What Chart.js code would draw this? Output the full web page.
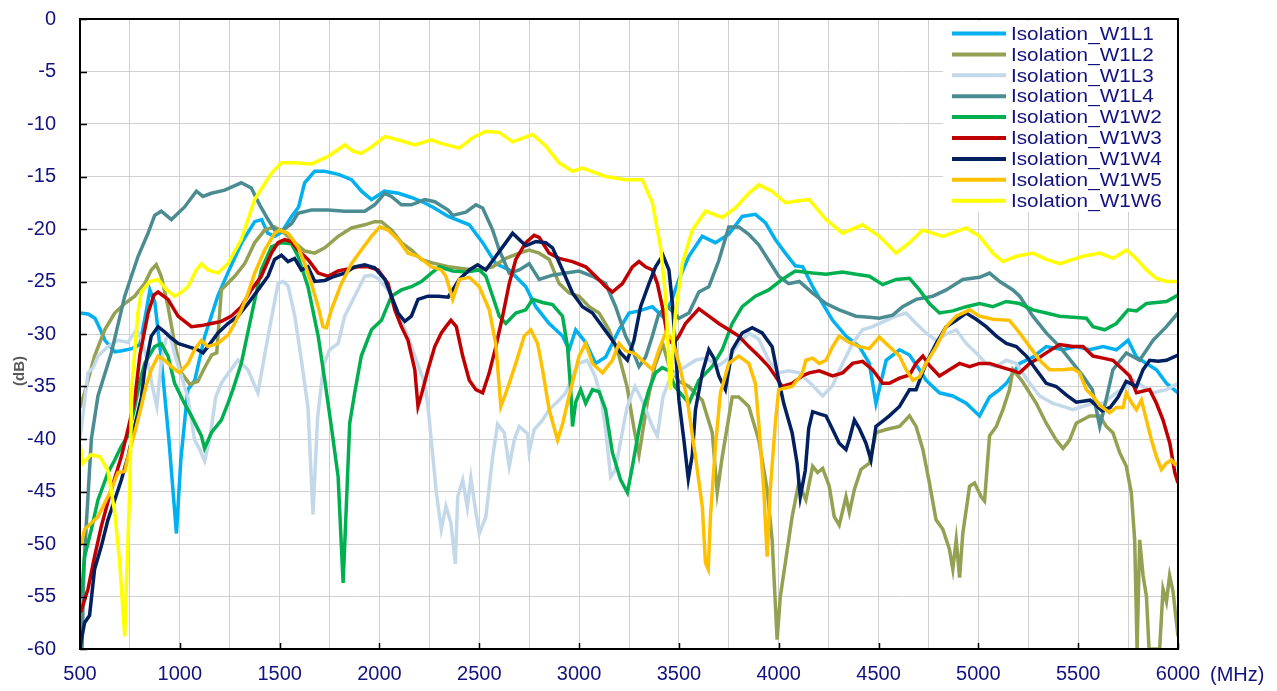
<!DOCTYPE html>
<html>
<head>
<meta charset="utf-8">
<script src="https://cdn.jsdelivr.net/npm/chart.js@4.4.1/dist/chart.umd.min.js"></script>
<style>
  html, body { margin: 0; padding: 0; background: #fff; }
  canvas { display: block; }
</style>
</head>
<body>
<canvas id="isoChart" width="1277" height="691"></canvas>
<script>
/* ========================================
   DATA  (frequency MHz, isolation dB)
======================================== */

const seriesNames = [
  "Isolation_W1L1", "Isolation_W1L2", "Isolation_W1L3", "Isolation_W1L4",
  "Isolation_W1W2", "Isolation_W1W3", "Isolation_W1W4", "Isolation_W1W5", "Isolation_W1W6"
];

const seriesColors = [
  "#00B0F0", "#94A052", "#C3D9EA", "#4A8C92",
  "#00B050", "#C00000", "#002060", "#FFC000", "#FFFF00"
];

const xTicks = [500, 1000, 1500, 2000, 2500, 3000, 3500, 4000, 4500, 5000, 5500, 6000];
const yTicks = [0, -5, -10, -15, -20, -25, -30, -35, -40, -45, -50, -55, -60];

const isoW1L1 = [[500,-28],[540,-28.1],[575,-28.5],[600,-29.5],[625,-30.6],[675,-31.7],[710,-31.6],[760,-31.4],[800,-31],[830,-28],[850,-25.8],[875,-27],[905,-32],[945,-40],[983,-49],[1005,-42],[1040,-35.3],[1075,-34.4],[1125,-30.2],[1190,-26.4],[1240,-24.2],[1310,-21.3],[1375,-19.3],[1410,-19.1],[1440,-20.4],[1475,-20.7],[1510,-20.3],[1560,-18.8],[1595,-17.9],[1625,-15.6],[1675,-14.5],[1725,-14.5],[1795,-14.8],[1860,-15.3],[1910,-16.4],[1960,-17.2],[2025,-16.4],[2095,-16.6],[2160,-17],[2225,-17.5],[2275,-18],[2345,-18.8],[2450,-19.6],[2517,-21.3],[2583,-23.3],[2650,-23.9],[2733,-25.5],[2783,-27.4],[2850,-29],[2917,-30.2],[2950,-31.5],[2983,-29.6],[3033,-30.8],[3083,-32.8],[3133,-32.2],[3200,-29.6],[3250,-28],[3300,-27.8],[3367,-27.4],[3417,-28.3],[3460,-27],[3500,-24.8],[3550,-22.6],[3617,-20.7],[3683,-21.3],[3750,-20.5],[3817,-18.8],[3883,-18.6],[3933,-19.4],[3983,-21],[4033,-22.3],[4083,-23.5],[4120,-23.6],[4170,-25.5],[4220,-27.1],[4270,-28.7],[4337,-30.2],[4404,-31.2],[4454,-32.8],[4487,-36.6],[4538,-32.5],[4605,-31.5],[4655,-32],[4705,-33.4],[4738,-34.4],[4805,-35.6],[4872,-35.9],[4939,-36.6],[5006,-37.8],[5056,-36],[5106,-35.3],[5140,-34.7],[5207,-32.8],[5273,-32.2],[5340,-31.2],[5424,-31.5],[5490,-31.2],[5558,-31.5],[5624,-31.2],[5691,-31.5],[5750,-30.6],[5792,-32.2],[5842,-32.8],[5892,-33.4],[5942,-34.7],[6000,-35.6]];

const isoW1L2 = [[500,-37],[523,-35.6],[573,-32.1],[624,-29.6],[674,-28],[724,-27.1],[774,-26.4],[824,-25.2],[857,-23.9],[882,-23.4],[907,-24.5],[941,-27.4],[974,-30.9],[1008,-33.7],[1050,-34.8],[1090,-34.5],[1130,-33],[1160,-32],[1185,-31.8],[1208,-25.8],[1275,-24.5],[1325,-23.3],[1375,-21.3],[1425,-20.1],[1475,-19.8],[1525,-20.4],[1575,-21.3],[1626,-22.1],[1676,-22.3],[1726,-21.8],[1793,-20.7],[1860,-19.9],[1926,-19.6],[1976,-19.3],[2010,-19.3],[2060,-20.1],[2110,-21.3],[2160,-22],[2210,-22.9],[2260,-23.2],[2344,-23.6],[2433,-23.8],[2500,-23.9],[2567,-23.6],[2633,-22.8],[2700,-22.3],[2750,-22],[2800,-22.3],[2850,-22.9],[2900,-25.2],[2950,-26.1],[3000,-26.4],[3050,-27.4],[3100,-28],[3150,-29.6],[3200,-32.1],[3240,-35],[3275,-39],[3300,-41.5],[3342,-36.5],[3380,-33],[3420,-31],[3450,-33],[3500,-34.5],[3550,-35],[3600,-36],[3617,-36.3],[3667,-39.4],[3692,-45.1],[3717,-41.7],[3767,-36],[3800,-36],[3850,-36.9],[3900,-40.1],[3942,-44.8],[3967,-49.6],[3992,-59.1],[4008,-55],[4033,-51.8],[4067,-47.4],[4100,-44.2],[4136,-45.8],[4170,-42.6],[4195,-43.2],[4220,-42.8],[4253,-44.5],[4278,-47.4],[4303,-48.2],[4337,-45.5],[4354,-47],[4379,-44.8],[4412,-42.9],[4454,-42.3],[4487,-39.4],[4538,-39.1],[4605,-38.8],[4655,-37.8],[4688,-38.8],[4722,-41],[4755,-44.2],[4788,-47.7],[4822,-48.6],[4855,-50.5],[4872,-52.4],[4889,-49.6],[4906,-53.2],[4922,-49],[4956,-44.5],[4981,-44.2],[5014,-45.5],[5031,-45.9],[5056,-39.7],[5090,-38.8],[5123,-37.2],[5156,-35.3],[5173,-33.4],[5220,-34.5],[5290,-36.6],[5340,-38.5],[5390,-40.1],[5424,-40.9],[5457,-40.1],[5490,-38.5],[5558,-37.8],[5608,-37.8],[5641,-38.8],[5674,-39.4],[5708,-41.3],[5741,-42.6],[5766,-45.1],[5783,-49.6],[5795,-60],[5808,-49.6],[5825,-53],[5842,-55],[5855,-60],[5908,-60],[5925,-54.3],[5942,-55.5],[5958,-53],[5975,-54.5],[5989,-56.9],[6000,-58.8]];

const isoW1L3 = [[500,-40.1],[540,-33.7],[567,-33.2],[590,-32.1],[640,-31.2],[690,-30.6],[740,-30.8],[782,-29.6],[807,-30.5],[841,-32.8],[866,-35.3],[885,-36.9],[905,-33],[930,-30.5],[950,-30],[975,-32],[1000,-33.5],[1040,-36],[1074,-40.1],[1100,-41],[1124,-42.1],[1150,-40],[1180,-36],[1208,-34.7],[1225,-34.2],[1291,-32.5],[1341,-33.4],[1391,-35.6],[1442,-30.2],[1492,-25.2],[1517,-25],[1542,-25.4],[1576,-28.3],[1609,-32.5],[1642,-37],[1667,-47.2],[1690,-38],[1720,-33],[1750,-31.5],[1793,-30.9],[1826,-28.3],[1876,-26.4],[1926,-24.5],[1960,-24.4],[1993,-24.7],[2043,-25.8],[2093,-28],[2143,-30.2],[2177,-32.1],[2227,-34.7],[2243,-36.9],[2285,-45.1],[2310,-48.6],[2333,-46.4],[2358,-48],[2380,-51.9],[2392,-45.5],[2417,-43.9],[2440,-46.5],[2458,-43.7],[2483,-47],[2500,-49],[2533,-47.4],[2567,-41.7],[2592,-38.6],[2625,-39.4],[2650,-42.6],[2675,-40.1],[2700,-38.8],[2742,-39.5],[2750,-41.2],[2775,-39.1],[2817,-38.2],[2850,-37.2],[2900,-36.3],[2933,-35.6],[2967,-34],[3000,-32.8],[3040,-32.5],[3080,-34],[3110,-36],[3133,-39.1],[3158,-43.6],[3180,-43],[3210,-40],[3240,-37],[3280,-35],[3320,-36.5],[3367,-38.8],[3392,-39.7],[3420,-36],[3460,-34],[3500,-33.5],[3583,-32.5],[3633,-32.3],[3700,-33],[3750,-32.3],[3800,-30.9],[3850,-29.9],[3900,-30.5],[3950,-32.5],[4000,-33.7],[4050,-33.5],[4103,-33.7],[4170,-34.9],[4220,-35.9],[4270,-34.9],[4320,-32.8],[4370,-30.9],[4420,-29.6],[4470,-29.3],[4538,-28.7],[4588,-28.3],[4638,-28],[4688,-29],[4738,-29.9],[4789,-30.6],[4839,-30],[4889,-29.6],[4939,-30.9],[4989,-31.8],[5039,-32.8],[5090,-33.1],[5140,-32.5],[5190,-32.8],[5250,-34.5],[5307,-35.9],[5373,-36.6],[5424,-36.9],[5474,-37.2],[5524,-36.9],[5574,-36.6],[5624,-36.6],[5691,-35.6],[5741,-35],[5775,-34.4],[5825,-35],[5875,-35.6],[5942,-35.3],[6000,-34.7]];

const isoW1L4 = [[500,-60],[510,-60],[520,-52],[532,-48],[557,-40],[590,-35.9],[657,-31.8],[724,-26.4],[791,-22.6],[841,-20.4],[874,-18.7],[907,-18.3],[958,-19.1],[1024,-17.9],[1083,-16.4],[1116,-16.9],[1158,-16.6],[1225,-16.3],[1308,-15.6],[1358,-16.1],[1400,-17.7],[1442,-19.1],[1475,-20.1],[1517,-20.1],[1559,-19.5],[1592,-18.5],[1659,-18.2],[1742,-18.2],[1826,-18.3],[1926,-18.3],[1976,-17.7],[2026,-16.6],[2060,-16.9],[2110,-17.7],[2160,-17.7],[2227,-17.2],[2277,-17.4],[2344,-18.2],[2367,-18.7],[2433,-18.4],[2483,-17.7],[2517,-18],[2567,-20.1],[2600,-22],[2650,-24.2],[2700,-23.9],[2750,-23.3],[2800,-24.8],[2867,-24.4],[2933,-24.2],[3000,-24],[3067,-24.5],[3133,-25.2],[3183,-27.4],[3233,-30.2],[3267,-31.5],[3300,-33.1],[3333,-32.2],[3367,-30.2],[3400,-28],[3450,-27.5],[3500,-28.5],[3550,-28],[3600,-26],[3650,-25.5],[3700,-23],[3750,-19.8],[3800,-19.8],[3850,-20.5],[3900,-21.5],[3950,-23],[4000,-24.5],[4050,-25.2],[4103,-25],[4170,-26.1],[4237,-27.1],[4303,-27.7],[4387,-28.3],[4454,-28.4],[4504,-28.5],[4571,-28.2],[4621,-27.4],[4688,-26.7],[4772,-26.4],[4839,-25.8],[4922,-24.8],[5006,-24.6],[5056,-24.2],[5107,-25],[5173,-25.8],[5207,-26.4],[5273,-28.3],[5340,-29.9],[5407,-31.2],[5474,-32.8],[5524,-34],[5571,-35.3],[5608,-38.8],[5625,-37.5],[5674,-33.4],[5741,-31.8],[5808,-32.5],[5875,-30.6],[5942,-29.3],[6000,-28]];

const isoW1W2 = [[500,-55],[510,-54.3],[523,-51.2],[557,-48.6],[590,-45.8],[640,-43.2],[674,-42],[707,-40.7],[740,-39.7],[774,-37],[800,-34.5],[824,-32.8],[874,-31.2],[907,-30.9],[941,-32.1],[974,-34.7],[1020,-36.5],[1058,-37.8],[1108,-39.7],[1124,-40.9],[1158,-39.4],[1208,-38.2],[1241,-36.6],[1266,-35.3],[1308,-32.8],[1358,-28.3],[1408,-23.9],[1459,-21.7],[1509,-21.3],[1559,-21.4],[1592,-22.6],[1642,-25.5],[1693,-30.2],[1726,-34.4],[1759,-38.8],[1793,-43.6],[1818,-53.7],[1834,-46.4],[1851,-38.5],[1876,-35.6],[1909,-32.1],[1960,-29.6],[2010,-28.7],[2060,-26.4],[2110,-25.8],[2160,-25.5],[2210,-25],[2260,-24.2],[2300,-23.6],[2367,-24],[2433,-24.1],[2500,-23.9],[2533,-24.5],[2567,-26.4],[2600,-28.3],[2633,-29],[2683,-28],[2733,-27.7],[2767,-26.7],[2817,-27],[2867,-27.2],[2917,-28.3],[2942,-31.2],[2958,-35.3],[2967,-38.8],[2983,-36.5],[3008,-35.3],[3033,-36.6],[3067,-35.3],[3100,-35.5],[3133,-37.2],[3167,-41.3],[3208,-43.9],[3242,-45.1],[3267,-42.6],[3300,-39.1],[3325,-36.9],[3350,-35.3],[3383,-33.7],[3417,-33.2],[3450,-33.5],[3480,-35],[3550,-36.6],[3600,-34.4],[3667,-33.1],[3717,-31.5],[3767,-29],[3817,-27.4],[3883,-26.4],[3950,-25.8],[4017,-24.8],[4083,-24],[4170,-24.2],[4237,-24.3],[4320,-24.1],[4387,-24.3],[4454,-24.5],[4521,-25.3],[4588,-24.8],[4655,-24.7],[4705,-25.8],[4755,-27.1],[4805,-28],[4872,-27.8],[4939,-27.4],[5006,-27.1],[5073,-27.4],[5140,-26.9],[5207,-27.1],[5273,-27.7],[5340,-28],[5407,-28.3],[5474,-28.4],[5541,-28.5],[5574,-29.3],[5633,-29.6],[5691,-29],[5750,-27.7],[5792,-27.8],[5842,-27.1],[5892,-27],[5942,-26.9],[6000,-26.3]];

const isoW1W3 = [[500,-56.5],[507,-56.3],[540,-54.3],[573,-51.2],[607,-48.3],[657,-44.8],[707,-41.7],[740,-39.1],[774,-36.3],[800,-32],[841,-28],[870,-26.3],[891,-26],[941,-26.7],[991,-28.3],[1058,-29.3],[1108,-29.2],[1158,-29],[1208,-28.8],[1258,-28.3],[1308,-27.4],[1358,-25.8],[1408,-24.5],[1459,-22.3],[1492,-21.3],[1525,-21],[1559,-21.2],[1592,-22],[1642,-22.9],[1693,-24.2],[1743,-24.5],[1793,-24],[1843,-23.8],[1893,-23.6],[1943,-23.6],[1993,-23.9],[2043,-25.2],[2077,-27.7],[2110,-29.3],[2143,-30.6],[2177,-33.4],[2193,-36.9],[2210,-35.8],[2243,-33.4],[2277,-31.2],[2310,-29.9],[2333,-29.3],[2358,-28.7],[2385,-29.3],[2417,-32.1],[2450,-34.4],[2483,-35.3],[2517,-35.6],[2550,-33.7],[2583,-31.2],[2617,-28.3],[2650,-25.2],[2683,-22.9],[2733,-21.3],[2775,-20.6],[2800,-20.8],[2850,-22.3],[2900,-22.8],[2967,-23.1],[3033,-23.6],[3083,-24.5],[3133,-25.5],[3167,-26],[3217,-25.2],[3267,-23.6],[3300,-23.1],[3333,-23.6],[3367,-23.9],[3392,-25.2],[3417,-27.4],[3442,-30.2],[3470,-31],[3500,-30.2],[3533,-29],[3600,-27.6],[3650,-28.3],[3700,-29],[3750,-29.6],[3800,-30.2],[3850,-31.2],[3900,-32.1],[3950,-33.1],[3983,-34],[4017,-35],[4067,-34.7],[4117,-34],[4153,-33.7],[4203,-33.5],[4270,-34],[4320,-33.7],[4370,-32.8],[4420,-32.6],[4470,-33.4],[4521,-34.7],[4554,-34.7],[4605,-34.2],[4655,-33.9],[4688,-32.8],[4722,-32.1],[4755,-33],[4805,-34],[4855,-33.4],[4906,-32.8],[4956,-33.1],[5006,-32.8],[5056,-32.8],[5106,-33.1],[5156,-33.4],[5207,-33.7],[5257,-32.8],[5300,-32.3],[5340,-31.8],[5407,-31],[5474,-31.2],[5524,-31.2],[5574,-32.1],[5624,-32.3],[5674,-32.5],[5725,-33.4],[5758,-34],[5792,-35.6],[5858,-35.3],[5892,-36.6],[5925,-38.2],[5959,-40.4],[5984,-43.2],[6000,-44.2]];

const isoW1W4 = [[500,-60],[507,-59.1],[523,-57.5],[548,-56.8],[573,-52.4],[607,-50.2],[640,-47.7],[674,-45.8],[707,-43.9],[740,-41.7],[774,-38.8],[807,-36.1],[824,-33.4],[857,-30.2],[891,-29.3],[924,-29.8],[958,-30.4],[991,-30.9],[1041,-31.2],[1091,-31.5],[1116,-31.8],[1141,-31.2],[1191,-29.9],[1241,-29],[1291,-28.3],[1342,-27.1],[1392,-25.8],[1442,-24.5],[1475,-22.9],[1509,-22.5],[1542,-23.1],[1575,-22.8],[1609,-23.9],[1642,-23.6],[1676,-25],[1726,-24.9],[1776,-24.5],[1826,-24.2],[1876,-23.6],[1926,-23.4],[1976,-23.7],[2027,-24.8],[2060,-26.4],[2093,-28],[2127,-28.8],[2160,-28.3],[2193,-26.7],[2243,-26.4],[2294,-26.4],[2344,-26.5],[2400,-24.8],[2450,-23.9],[2492,-23.4],[2533,-23.9],[2583,-22.6],[2633,-21.3],[2667,-20.4],[2700,-21],[2733,-21.6],[2783,-21.2],[2833,-21.3],[2867,-21.8],[2917,-23.9],[2967,-26.1],[3017,-27.4],[3067,-28],[3117,-29.3],[3167,-30.6],[3208,-31.8],[3242,-32.5],[3275,-30.6],[3308,-27.4],[3350,-25.2],[3383,-23.6],[3420,-22.5],[3450,-23.9],[3467,-27],[3485,-32],[3500,-36.3],[3525,-40.1],[3547,-43.8],[3567,-41.5],[3583,-37.2],[3617,-33.7],[3650,-31.5],[3675,-32.3],[3700,-34],[3733,-35.3],[3767,-31.5],[3817,-29.9],[3867,-29.4],[3917,-29.9],[3967,-31.2],[4000,-34.4],[4025,-36.6],[4067,-39.4],[4092,-42.3],[4108,-45.5],[4133,-43],[4150,-39],[4170,-37.4],[4203,-37.6],[4237,-37.8],[4270,-39.1],[4303,-40.4],[4337,-41],[4354,-40],[4379,-38.2],[4404,-39],[4437,-40.4],[4462,-42],[4487,-38.8],[4521,-38.3],[4554,-37.8],[4605,-36.9],[4655,-35.3],[4688,-35.3],[4738,-32.8],[4789,-30.9],[4839,-29.3],[4889,-28.7],[4939,-28],[4989,-28.6],[5039,-29.3],[5090,-30.2],[5140,-30.9],[5190,-31.2],[5240,-32.1],[5290,-33.4],[5340,-34.7],[5390,-35],[5440,-35.8],[5490,-36.5],[5560,-36.3],[5620,-37.3],[5660,-37],[5700,-36],[5740,-34.5],[5792,-35],[5825,-33.4],[5858,-32.5],[5900,-32.6],[5942,-32.5],[6000,-32]];

const isoW1W5 = [[500,-50],[507,-49.9],[523,-48.6],[557,-48],[590,-47.4],[624,-46.1],[657,-44.8],[690,-43.2],[724,-43.1],[740,-41.7],[774,-39.4],[807,-36.9],[830,-35],[857,-33.4],[891,-32.1],[924,-32.5],[958,-33.1],[999,-33.7],[1041,-32.8],[1074,-31.5],[1108,-30.6],[1141,-31.2],[1191,-30.9],[1241,-30.1],[1275,-29],[1308,-27.7],[1342,-26.1],[1375,-24.2],[1425,-22],[1475,-20.4],[1500,-20.1],[1542,-20.4],[1592,-21.7],[1626,-23.3],[1659,-25.2],[1693,-27.4],[1717,-29.3],[1734,-29.4],[1759,-27.7],[1809,-25.2],[1860,-23.3],[1909,-22],[1960,-20.7],[2002,-19.8],[2043,-20.1],[2093,-21],[2143,-22.3],[2193,-22.6],[2260,-23.6],[2310,-23.9],[2333,-24.5],[2367,-26.7],[2400,-24.8],[2450,-24.6],[2500,-25.5],[2550,-27.7],[2583,-31],[2608,-36.9],[2630,-35.8],[2650,-34.7],[2683,-32.8],[2725,-30.2],[2758,-29.6],[2792,-30.9],[2817,-33.4],[2850,-37.2],[2892,-40.1],[2917,-38.6],[2950,-35.9],[3000,-32.1],[3033,-30.9],[3067,-32.8],[3117,-33.7],[3167,-32.5],[3200,-30.9],[3233,-31.6],[3283,-31.9],[3333,-32.8],[3367,-33.4],[3400,-31.5],[3433,-29.9],[3467,-30.5],[3500,-32.8],[3540,-36],[3583,-41.7],[3617,-46.4],[3633,-51.8],[3647,-52.4],[3658,-47.4],[3683,-40.7],[3708,-35.6],[3750,-32.8],[3800,-32.1],[3850,-32.8],[3883,-34.7],[3900,-38.5],[3925,-44.8],[3942,-51.2],[3958,-44.8],[3983,-38.5],[4000,-35.3],[4067,-35],[4117,-33.8],[4136,-32.5],[4170,-32.3],[4203,-32.8],[4237,-32.5],[4270,-31.2],[4303,-30.2],[4354,-30.8],[4404,-31.2],[4454,-31.4],[4504,-30.3],[4554,-31.2],[4605,-32.1],[4638,-33.4],[4672,-34.4],[4705,-34.1],[4738,-32.8],[4789,-31.2],[4839,-29.3],[4889,-28.3],[4956,-27.7],[5006,-28.3],[5073,-28.6],[5156,-28.7],[5207,-29.9],[5257,-31.2],[5307,-32.5],[5357,-33.4],[5424,-33.4],[5474,-33.3],[5507,-33.7],[5541,-35.3],[5574,-35.9],[5608,-36.8],[5658,-37.5],[5691,-37],[5725,-37],[5741,-35.6],[5766,-36.5],[5792,-37.2],[5817,-36.3],[5842,-38.2],[5867,-40.1],[5892,-41.7],[5917,-42.9],[5942,-42.3],[5967,-42],[5984,-42.4],[6000,-42.3]];

const isoW1W6 = [[500,-40.5],[515,-42.3],[555,-41.5],[600,-41.7],[640,-43],[674,-47],[699,-51.8],[724,-58.8],[749,-44.8],[760,-35],[790,-28],[807,-26],[850,-25],[891,-24.8],[935,-25.8],[974,-26.4],[1010,-26],[1041,-25.5],[1080,-24],[1108,-23.3],[1141,-23.9],[1191,-24.2],[1241,-23.3],[1308,-21],[1375,-17.2],[1459,-14.7],[1509,-13.7],[1576,-13.7],[1659,-13.8],[1742,-13.1],[1826,-12],[1870,-12.6],[1909,-12.8],[1960,-12.2],[2027,-11.2],[2093,-11.5],[2177,-12],[2260,-11.5],[2300,-11.8],[2400,-12.3],[2467,-11.3],[2533,-10.7],[2600,-10.8],[2667,-11.7],[2767,-11],[2833,-12.1],[2900,-13.7],[2967,-14.5],[3017,-14.2],[3133,-15],[3233,-15.3],[3317,-15.3],[3367,-17.5],[3408,-21.7],[3433,-26.4],[3450,-32.7],[3458,-35.3],[3470,-31],[3483,-28],[3517,-23.3],[3567,-20.1],[3633,-18.3],[3717,-18.9],[3783,-18],[3850,-16.6],[3900,-15.8],[3967,-16.4],[4033,-17.5],[4100,-17.3],[4153,-17.2],[4237,-19.1],[4320,-20.4],[4420,-19.6],[4504,-20.7],[4588,-22.3],[4655,-21.3],[4721,-20.1],[4822,-20.7],[4939,-19.9],[5006,-20.7],[5073,-22.3],[5123,-23.1],[5190,-22.6],[5273,-22.3],[5340,-22.9],[5407,-23.3],[5524,-22.6],[5608,-22.3],[5675,-22.8],[5742,-22],[5790,-22.8],[5842,-23.9],[5892,-24.7],[5942,-25],[6000,-25]];

const allSeries = [isoW1L1, isoW1L2, isoW1L3, isoW1L4, isoW1W2, isoW1W3, isoW1W4, isoW1W5, isoW1W6];

/* ========================================
   STYLE
======================================== */

const NAVY = "#12127F";
const GRID = "#D0D0D0";
const FONT = "'Liberation Sans', Arial, sans-serif";

/* ========================================
   PLUGIN: legend box, frame, inner ticks, unit labels
======================================== */

const decorPlugin = {
  id: "decor",
  afterDatasetsDraw(chart) {
    const { ctx, chartArea: a, scales } = chart;

    // legend box
    ctx.save();
    ctx.fillStyle = "#fff";
    ctx.fillRect(943, a.top + 2, a.right - 943, 191);
    chart.data.datasets.forEach((ds, i) => {
      const y = a.top + 14.5 + i * 20.9;
      ctx.strokeStyle = ds.borderColor;
      ctx.lineWidth = 4;
      ctx.beginPath();
      ctx.moveTo(952, y);
      ctx.lineTo(1006, y);
      ctx.stroke();

      ctx.save();
      ctx.translate(1011, y);
      ctx.scale(1.09, 1);
      ctx.fillStyle = NAVY;
      ctx.font = "19px " + FONT;
      ctx.textBaseline = "middle";
      ctx.fillText(ds.label, 0, 1);
      ctx.restore();
    });

    // frame
    ctx.strokeStyle = "#000";
    ctx.lineWidth = 2;
    ctx.strokeRect(a.left, a.top, a.right - a.left, a.bottom - a.top);

    // inner tick marks
    ctx.lineWidth = 1.5;
    ctx.beginPath();
    xTicks.forEach(v => {
      const px = Math.round(scales.x.getPixelForValue(v)) + 0.5;
      ctx.moveTo(px, a.bottom);
      ctx.lineTo(px, a.bottom - 6);
    });
    yTicks.forEach(v => {
      const py = Math.round(scales.y.getPixelForValue(v)) + 0.5;
      ctx.moveTo(a.left, py);
      ctx.lineTo(a.left + 7, py);
    });
    ctx.stroke();

    // unit labels
    ctx.fillStyle = NAVY;
    ctx.font = "20px " + FONT;
    ctx.textBaseline = "middle";
    ctx.fillText("(MHz)", 1210, 675);

    ctx.translate(20, 371);
    ctx.rotate(-Math.PI / 2);
    ctx.fillStyle = "#595959";
    ctx.font = "bold 15px " + FONT;
    ctx.textAlign = "center";
    ctx.fillText("(dB)", 0, 0);
    ctx.restore();
  }
};

/* ========================================
   CHART
======================================== */

const datasets = allSeries.map((pts, i) => ({
  label: seriesNames[i],
  data: pts.map(p => ({ x: p[0], y: p[1] })),
  borderColor: seriesColors[i],
  backgroundColor: seriesColors[i],
  borderWidth: 3.5,
  pointRadius: 0,
  tension: 0,
  fill: false,
  order: allSeries.length - i   // later series drawn on top
}));

new Chart(document.getElementById("isoChart"), {
  type: "line",
  data: { datasets },
  options: {
    responsive: false,
    animation: false,
    layout: { padding: { top: 19, right: 99, left: 0, bottom: 0 } },
    plugins: {
      legend: { display: false },
      tooltip: { enabled: false }
    },
    scales: {
      x: {
        type: "linear",
        min: 500,
        max: 6000,
        afterFit: s => {
          s.height = 42;
          s.paddingLeft = 0; s.paddingRight = 0;
        },
        afterBuildTicks: s => {
          s.ticks = [];
          for (let v = 500; v <= 6000; v += 250) s.ticks.push({ value: v });
        },
        ticks: {
          autoSkip: false,
          maxRotation: 0,
          padding: 13,
          color: NAVY,
          font: { family: FONT, size: 20 },
          callback: v => (xTicks.includes(v) ? String(v) : "")
        },
        grid: { color: GRID, lineWidth: 1, drawTicks: false },
        border: { display: false }
      },
      y: {
        min: -60,
        max: 0,
        afterFit: s => {
          s.width = 80;
          s.paddingTop = 0; s.paddingBottom = 0;
        },
        afterBuildTicks: s => {
          s.ticks = yTicks.map(v => ({ value: v }));
        },
        ticks: {
          padding: 24,
          color: NAVY,
          font: { family: FONT, size: 20 }
        },
        grid: { color: GRID, lineWidth: 1, drawTicks: false },
        border: { display: false }
      }
    }
  },
  plugins: [decorPlugin]
});
</script>
</body>
</html>
